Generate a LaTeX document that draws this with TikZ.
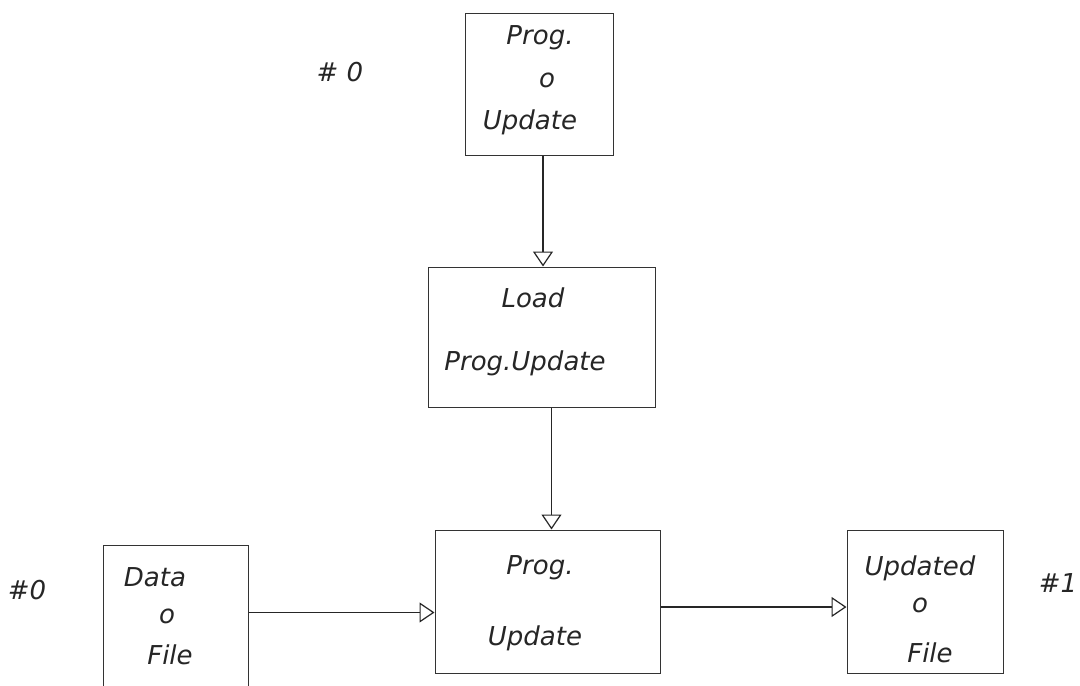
\documentclass[tikz,border=0pt]{standalone}
\usepackage{fontspec}
\setmainfont{DejaVu Sans}
\usetikzlibrary{arrows.meta}
\begin{document}
\begin{tikzpicture}[x=1pt,y=-1pt,
  box/.style={draw=black!80, line width=1pt, inner sep=0pt},
  lbl/.style={font=\itshape\fontsize{26}{30}\selectfont, text=black!85, inner sep=0pt},
  flow/.style={draw=black!85, line width=1.2pt, -{Triangle[open,length=15pt,width=20pt,line width=1.2pt]}}]
\clip (0,0) rectangle (1080,686);
\fill[white] (0,0) rectangle (1080,686);
% boxes
\node[box, minimum width=148pt, minimum height=142pt] (top) at (539,84) {};
\node[box, minimum width=227pt, minimum height=140pt] (load) at (541.5,337) {};
\node[box, minimum width=225pt, minimum height=143pt] (prog) at (547.5,601.5) {};
\node[box, minimum width=145pt, minimum height=155pt] (data) at (175.5,622.5) {};
\node[box, minimum width=156pt, minimum height=143pt] (upd) at (925,601.5) {};
% connectors
\draw[flow] ([xshift=4pt]top.south) -- ([xshift=4pt]top.south |- load.north);
\draw[flow] ([xshift=4pt]prog.north |- load.south) -- ([xshift=4pt]prog.north);
\draw[flow] ([yshift=10pt]data.east) -- ([yshift=10pt]data.east -| prog.west);
\draw[flow] ([yshift=-5.5pt]prog.east) -- ([yshift=-5.5pt]prog.east -| upd.west);
% labels
\node[lbl] (t1) at (540,38) {Prog.};
\node[lbl] (t2) at (547,80) {o};
\node[lbl] (t3) at (530,122) {Update};
\node[lbl] (h1) at (340,72) {\# 0};
\node[lbl] (l1) at (533,298) {Load};
\node[lbl] (l2) at (525,363) {Prog.Update};
\node[lbl] (p1) at (540,568) {Prog.};
\node[lbl] (p2) at (535,638) {Update};
\node[lbl] (d1) at (155,577) {Data};
\node[lbl] (d2) at (167,616) {o};
\node[lbl] (d3) at (170,655) {File};
\node[lbl] (u1) at (920,568) {Updated};
\node[lbl] (u2) at (920,605) {o};
\node[lbl] (u3) at (930,653) {File};
\node[lbl] (h2) at (27,590) {\#0};
\node[lbl] (h3) at (1058,583) {\#1};
\end{tikzpicture}
\end{document}
